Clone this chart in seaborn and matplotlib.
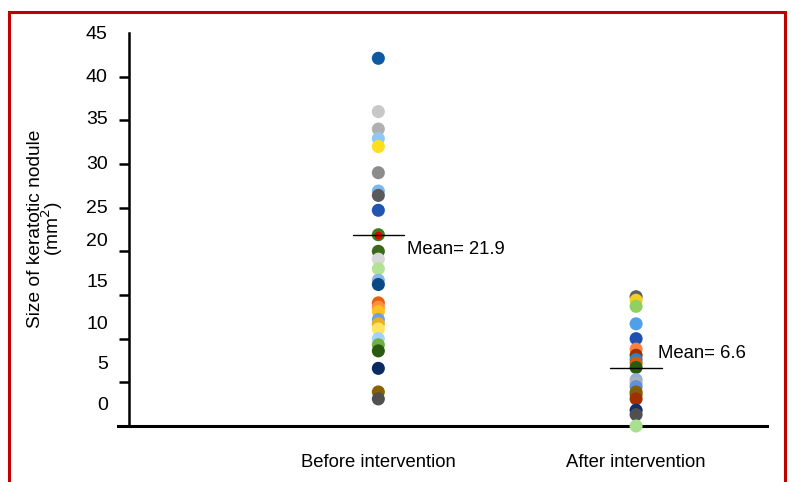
"""Keratotic nodule size before and after intervention (dot plot)."""

import matplotlib

matplotlib.use("Agg")
import matplotlib.pyplot as plt
import pandas as pd
import seaborn as sns
from matplotlib.patches import Rectangle

# Data (mm^2)
groups = ["Before intervention", "After intervention"]

before_values = [42.1, 36.0, 34.0, 32.9, 32.0, 29.0, 26.9, 26.4, 24.7, 21.9,
                 20.0, 19.1, 18.0, 16.7, 16.2, 14.1, 13.6, 13.1, 12.2, 11.7,
                 11.1, 10.0, 9.3, 8.6, 6.6, 3.9, 3.1]
before_colors = ["#0d5aa2", "#c8c8c8", "#b0b0b0", "#8ec8f5", "#ffde1e", "#8c8c8c",
                 "#7ab8ee", "#5a5a5a", "#2255b0", "#3c7a1c", "#3a6a1a", "#d8d8d8",
                 "#b4e294", "#8ab8e8", "#0a4a82", "#e86010", "#ff9040", "#ffc020",
                 "#70a0e0", "#e8b020", "#ffe462", "#a4d2ff", "#70b040", "#2a5a10",
                 "#0a2a62", "#8a6000", "#505050"]

after_values = [14.8, 14.4, 13.7, 11.7, 10.0, 8.8, 8.1, 7.6, 7.2, 6.7,
                5.3, 4.9, 4.5, 3.9, 3.6, 3.1, 1.8, 1.3, 0.0]
after_colors = ["#606060", "#f0d020", "#90d060", "#50a0e8", "#2050b0", "#ff8040",
                "#a03000", "#3080d0", "#d06010", "#2a5a10", "#90b0e0", "#b0b0b0",
                "#6090e0", "#8a6000", "#806010", "#a03000", "#0a3070", "#505050",
                "#a8e090"]

means = [21.9, 6.6]
mean_labels = ["Mean= 21.9", "Mean= 6.6"]

# the red dot sitting inside the green one at the before mean
overlay_value = 21.9
overlay_color = "#e00000"

y_ticks = [5, 10, 15, 20, 25, 30, 35, 40, 45]
y_label_pos = [2.6, 7.3, 11.9, 16.7, 21.3, 25.1, 30.2, 35.3, 40.1, 45.0]
y_label_text = ["0", "5", "10", "15", "20", "25", "30", "35", "40", "45"]

df = pd.DataFrame({
    "group": [groups[0]] * len(before_values) + [groups[1]] * len(after_values),
    "value": before_values + after_values,
    "color": before_colors + after_colors,
})
df["id"] = range(len(df))

sns.set_style("white")
plt.rcParams["font.family"] = ["Liberation Sans", "DejaVu Sans"]
plt.rcParams["text.color"] = "black"
plt.rcParams["axes.labelcolor"] = "black"
plt.rcParams["xtick.color"] = "black"
plt.rcParams["ytick.color"] = "black"

fig = plt.figure(figsize=(7.91, 4.82), dpi=100)
ax = fig.add_axes([0.1492, 0.1162, 0.8205, 0.8154])

sns.stripplot(
    data=df, x="group", y="value", hue="id", order=groups,
    palette=list(df["color"]), jitter=False, size=9.4, linewidth=0,
    legend=False, ax=ax, zorder=3,
)
sns.stripplot(
    x=[groups[0]], y=[overlay_value], order=groups, color=overlay_color,
    jitter=False, size=5.5, linewidth=0, ax=ax, zorder=4,
)

# mean lines and labels
offsets = [(3, -15), (-4, 15)]
for i, (m, txt) in enumerate(zip(means, mean_labels)):
    ax.plot([i - 0.1, i + 0.1], [m, m], color="black", lw=1.0, zorder=5)
    ax.annotate(txt, xy=(i + 0.1, m), xytext=offsets[i], textcoords="offset pixels",
                ha="left", va="center", fontsize=13.3, color="black")

ax.set_xlim(-1.01, 1.508)
ax.set_ylim(0, 45)

for c in ax.collections:
    c.set_clip_on(False)

# axes styling
for side in ["top", "right"]:
    ax.spines[side].set_visible(False)
ax.spines["left"].set_position(("data", -0.969))
ax.spines["left"].set_linewidth(1.8)
ax.spines["bottom"].set_linewidth(2.2)
ax.spines["left"].set_color("black")
ax.spines["bottom"].set_color("black")

ax.set_yticks(y_label_pos)
ax.set_yticklabels(y_label_text)
ax.set_yticks(y_ticks, minor=True)
ax.tick_params(axis="y", which="major", length=0, pad=15, labelsize=14)
ax.tick_params(axis="y", which="minor", left=True, length=7, width=1.8, color="black")
ax.tick_params(axis="x", length=0, pad=20.5, labelsize=13.3)

ax.set_xlabel("")
ax.set_ylabel("Size of keratotic nodule\n(mm$^2$)", fontsize=13.8, linespacing=0.8)
ax.yaxis.set_label_coords(-0.081, 0.501)

# red frame around the figure
fig.add_artist(Rectangle((9 / 791, -0.1), 776 / 791, 1.075, transform=fig.transFigure,
                         fill=False, ec="#c00000", lw=2.2))

fig.savefig("out.png", dpi=100)
